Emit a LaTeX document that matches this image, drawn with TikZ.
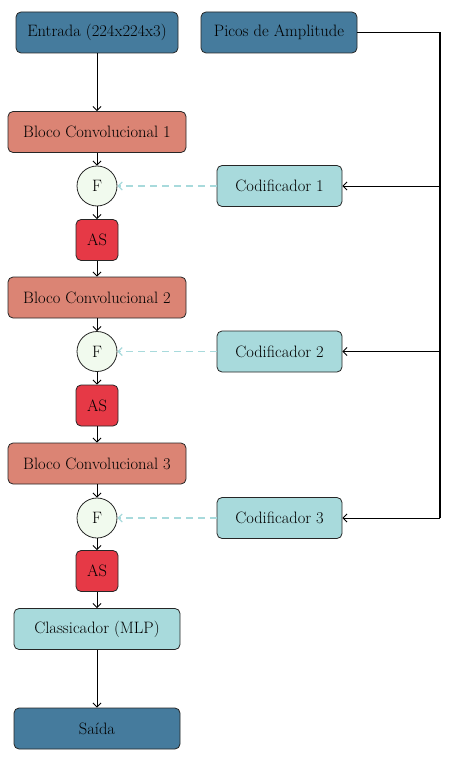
\documentclass[tikz,border=0pt]{standalone}
\usepackage{fontspec}
\usetikzlibrary{arrows.meta}
\definecolor{cblue}{HTML}{457B9D}
\definecolor{csalmon}{HTML}{DB8474}
\definecolor{cred}{HTML}{E63946}
\definecolor{ccyan}{HTML}{A8DADC}
\definecolor{cwhite}{HTML}{F1FAEE}
\begin{document}
\begin{tikzpicture}[x=1pt,y=-1pt,
  every node/.style={font=\fontsize{16.5}{19}\selectfont},
  box/.style={draw=black!85, line width=0.8pt, rounded corners=5pt, inner sep=0pt, align=center},
  bluebox/.style={box, fill=cblue},
  convbox/.style={box, fill=csalmon, minimum width=178pt, minimum height=41pt},
  asbox/.style={box, fill=cred, minimum width=42pt, minimum height=41pt},
  codbox/.style={box, fill=ccyan, minimum width=125pt, minimum height=41pt},
  fcirc/.style={circle, draw=black!85, line width=0.8pt, fill=cwhite, minimum size=40pt, inner sep=0pt},
  arr/.style={-{Straight Barb[length=4pt,width=8pt]}, line width=0.9pt},
  dash arr/.style={-{Straight Barb[length=4pt,width=8pt]}, ccyan, line width=1.2pt, dash pattern=on 7pt off 5pt}
]
\useasboundingbox (0,0) rectangle (450,759);
\node[bluebox, minimum width=162pt, minimum height=41pt] (in) at (97,32.5) {Entrada (224x224x3)};
\node[bluebox, minimum width=156pt, minimum height=41pt] (pic) at (279,32.5) {Picos de Amplitude};
\node[convbox] (b1) at (97,132) {Bloco Convolucional 1};
\node[fcirc] (f1) at (97,186) {F};
\node[asbox] (a1) at (97,240) {AS};
\node[convbox] (b2) at (97,297.5) {Bloco Convolucional 2};
\node[fcirc] (f2) at (97,351.5) {F};
\node[asbox] (a2) at (97,405.5) {AS};
\node[convbox] (b3) at (97,463.5) {Bloco Convolucional 3};
\node[fcirc] (f3) at (97,518) {F};
\node[asbox] (a3) at (97,571) {AS};
\node[box, fill=ccyan, minimum width=166pt, minimum height=41pt] (cls) at (97,629) {Classicador (MLP)};
\node[bluebox, minimum width=166pt, minimum height=41pt] (out) at (97,728.5) {Saída};
\node[codbox] (c1) at (279.5,186) {Codificador 1};
\node[codbox] (c2) at (279.5,351.5) {Codificador 2};
\node[codbox] (c3) at (279.5,518) {Codificador 3};
\coordinate (rt) at (440,32.5);
\coordinate (r1) at (440,186);
\coordinate (r2) at (440,351.5);
\coordinate (r3) at (440,518);
\draw[arr] (in) -- (b1);
\draw[arr] (b1) -- (f1);
\draw[arr] (f1) -- (a1);
\draw[arr] (a1) -- (b2);
\draw[arr] (b2) -- (f2);
\draw[arr] (f2) -- (a2);
\draw[arr] (a2) -- (b3);
\draw[arr] (b3) -- (f3);
\draw[arr] (f3) -- (a3);
\draw[arr] (a3) -- (cls);
\draw[arr] (cls) -- (out);
\draw[line width=1.6pt] (pic.east) -- (rt) -- (r3);
\draw[arr] (r1) -- (c1.east);
\draw[arr] (r2) -- (c2.east);
\draw[arr] (r3) -- (c3.east);
\draw[dash arr] (c1.west) -- (f1.east);
\draw[dash arr] (c2.west) -- (f2.east);
\draw[dash arr] (c3.west) -- (f3.east);
\end{tikzpicture}
\end{document}
